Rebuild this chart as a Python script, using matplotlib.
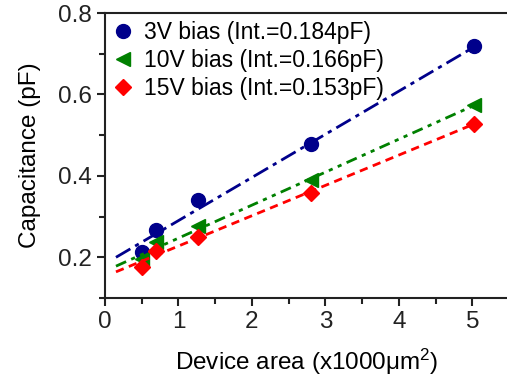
import numpy as np
import matplotlib
matplotlib.use("Agg")
import matplotlib.pyplot as plt
from matplotlib.ticker import MultipleLocator

plt.rcParams['font.family'] = ['Liberation Sans', 'DejaVu Sans']
plt.rcParams['mathtext.fontset'] = 'custom'
plt.rcParams['mathtext.rm'] = 'Liberation Sans'
plt.rcParams['mathtext.it'] = 'Liberation Sans:italic'

# measured device areas (x1000 um^2)
area = [0.5, 0.7, 1.26, 2.81, 5.03]

# capacitance (pF) per bias
cap_3v = [0.213, 0.266, 0.340, 0.478, 0.718]
cap_10v = [0.196, 0.238, 0.278, 0.389, 0.574]
cap_15v = [0.177, 0.215, 0.251, 0.358, 0.528]

# linear fits: intercepts from legend, slopes
intercepts = [0.184, 0.166, 0.153]
slopes = [0.106, 0.081, 0.0745]
fit_range = [0.15, 5.05]

labels = ['3V bias (Int.=0.184pF)', '10V bias (Int.=0.166pF)', '15V bias (Int.=0.153pF)']
colors = ['#00008B', '#008000', '#FF0000']
markers = ['o', '<', 'D']
msizes = [10, 10, 8.5]
dashes = [(6, 2, 1.5, 2), (4, 2, 1.5, 2, 1.5, 2), (3, 2)]

fig = plt.figure(figsize=(5.07, 3.83), dpi=100)
ax = fig.add_axes([0.207, 0.222, 0.797, 0.744])

xf = np.array(fit_range)
for cap, b, m, c, mk, ms, d, lab in zip([cap_3v, cap_10v, cap_15v], intercepts, slopes,
                                       colors, markers, msizes, dashes, labels):
    ax.plot(xf, b + m * xf, color=c, lw=2, dashes=d)
    ax.plot(area, cap, ls='none', marker=mk, ms=ms, color=c, label=lab)

ax.set_xlim(0, 5.5)
ax.set_ylim(0.1, 0.8)
ax.xaxis.set_major_locator(MultipleLocator(1))
ax.xaxis.set_minor_locator(MultipleLocator(0.5))
ax.yaxis.set_major_locator(MultipleLocator(0.2))
ax.yaxis.set_minor_locator(MultipleLocator(0.1))
ax.set_yticks([0.2, 0.4, 0.6, 0.8])
ax.set_yticklabels(['0.2', '0.4', '0.6', '0.8'])
ax.set_xticks([0, 1, 2, 3, 4, 5])
ax.set_xticklabels(['0', '1', '2', '3', '4', '5'])

ax.tick_params(which='both', direction='out', top=False, right=False, colors='#222222')
ax.tick_params(which='major', length=6, width=1.5, labelsize=17.5)
ax.tick_params(which='minor', length=4, width=1.5)
for s in ['left', 'bottom', 'top']:
    ax.spines[s].set_linewidth(1.5)
    ax.spines[s].set_color('#222222')
ax.spines['right'].set_visible(False)

ax.set_ylabel('Capacitance (pF)', fontsize=17.5, labelpad=12)
ax.set_xlabel('Device area (x1000μm$^2$)', fontsize=17.5, labelpad=10)

ax.legend(loc='upper left', frameon=False, fontsize=16.5, handletextpad=0.45,
          labelspacing=0.22, borderaxespad=0.05, handlelength=0.9, borderpad=0.3)

plt.savefig('out.png', dpi=100)
